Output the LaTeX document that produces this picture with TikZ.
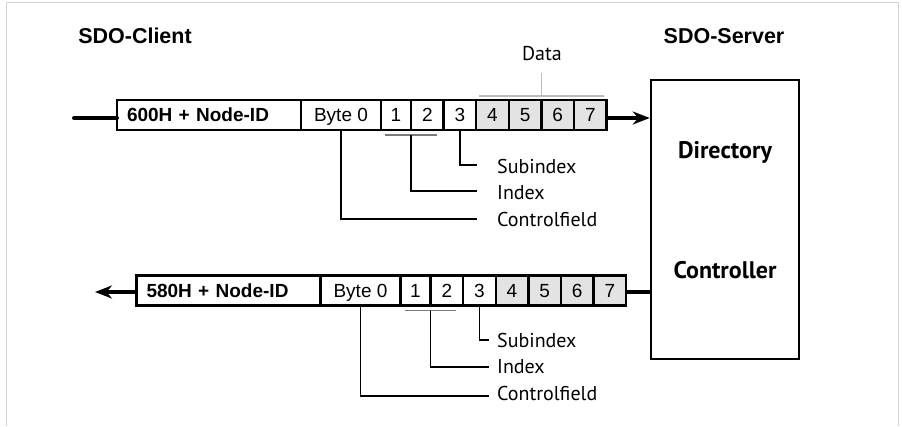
\documentclass[tikz,border=0pt]{standalone}
\usepackage{fontspec}
\setmainfont{Liberation Sans}
\newfontfamily\labelfont{PT Sans}
\usetikzlibrary{arrows.meta,positioning,calc}
\definecolor{cellgray}{HTML}{E3E3E3}
\definecolor{framegray}{HTML}{D4D4D4}
\definecolor{bracegray}{HTML}{7A7A7A}
\definecolor{datagray}{HTML}{BBBBBB}
\tikzset{
  field/.style={draw, line width=2.4pt, minimum height=30pt, inner sep=0pt, outer sep=0pt,
    text height=13.6pt, text depth=0pt, font=\fontsize{19}{22}\selectfont},
  idfield/.style={field, minimum width=184pt, text width=164pt, align=left, font=\bfseries\fontsize{19}{22}\selectfont},
  cell/.style={field, minimum width=32.6pt},
  datacell/.style={cell, fill=cellgray},
  wire/.style={line width=4pt},
  leader/.style={line width=1.3pt},
  lbl/.style={anchor=base west, inner sep=0pt, font=\labelfont\fontsize{20}{24}\selectfont},
  title/.style={anchor=base, inner sep=0pt, font=\bfseries\fontsize{21.5}{24}\selectfont},
  srvtext/.style={anchor=base, inner sep=0pt, font=\labelfont\bfseries\fontsize{24}{28}\selectfont},
}

\begin{document}
\begin{tikzpicture}[x=1pt,y=-1pt]
  \useasboundingbox (0,0) rectangle (902,426);
  \draw[framegray, line width=1pt] (6,426) -- (6,2.5) -- (898,2.5) -- (898,426);

  % titles
  \node[title] (client) at (135,43.5) {SDO-Client};
  \node[title] (server) at (724,43.5) {SDO-Server};

  % server box
  \node[draw, line width=2.5pt, minimum width=148pt, minimum height=279pt] (srv) at (725,219.5) {};
  \node[srvtext] (dir) at (725,158) {Directory};
  \node[srvtext] (ctrl) at (725,278) {Controller};

  % request: client -> server
  \node[idfield, anchor=west] (idA) at (117,115) {600H + Node-ID};
  \node[field, minimum width=80pt, right=0pt of idA] (b0A) {Byte 0};
  \node[cell, minimum width=30pt, right=0pt of b0A] (c1A) {1};
  \node[cell, right=0pt of c1A] (c2A) {2};
  \node[cell, right=0pt of c2A] (c3A) {3};
  \node[datacell, right=0pt of c3A] (c4A) {4};
  \node[datacell, right=0pt of c4A] (c5A) {5};
  \node[datacell, right=0pt of c5A] (c6A) {6};
  \node[datacell, right=0pt of c6A] (c7A) {7};

  \coordinate (inA) at (74,118);
  \draw[wire, line cap=round] (inA) -- (inA -| idA.west);
  \draw[wire, -{Stealth[length=17pt,width=13pt]}] (c7A.east |- inA) -- (srv.west |- inA);

  % data brace
  \node[lbl, anchor=base] (dataA) at (542,60) {Data};
  \coordinate (dmA) at ($(c4A.north west)!.5!(c7A.north east)+(0,-4)$);
  \draw[datagray, leader] ($(c4A.north west)+(3,-4)$) -- ($(c7A.north east)+(-3,-4)$);
  \draw[datagray, leader] (dmA) -- (dmA |- 0,73);

  % labels
  \node[lbl] (subA) at (497,173) {Subindex};
  \node[lbl] (idxA) at (497,199) {Index};
  \node[lbl] (ctlA) at (497,226) {Controlfield};
  \draw[bracegray, leader] ($(c1A.south west)+(4,5)$) -- ($(c2A.south east)+(-7,5)$);
  \draw[leader] (c3A.south) |- ([xshift=-20pt,yshift=8pt]subA.base west);
  \draw[leader] ($(c1A.south east)+(0,5)$) |- ([xshift=-20pt,yshift=8pt]idxA.base west);
  \draw[leader] (b0A.south) |- ([xshift=-20pt,yshift=7pt]ctlA.base west);

  % response: server -> client
  \node[idfield, anchor=west] (idB) at (136.5,290.5) {580H + Node-ID};
  \node[field, minimum width=80pt, right=0pt of idB] (b0B) {Byte 0};
  \node[cell, minimum width=30pt, right=0pt of b0B] (c1B) {1};
  \node[cell, right=0pt of c1B] (c2B) {2};
  \node[cell, right=0pt of c2B] (c3B) {3};
  \node[datacell, right=0pt of c3B] (c4B) {4};
  \node[datacell, right=0pt of c4B] (c5B) {5};
  \node[datacell, right=0pt of c5B] (c6B) {6};
  \node[datacell, right=0pt of c6B] (c7B) {7};

  \coordinate (outB) at (95,292);
  \draw[wire] (c7B.east |- outB) -- (srv.west |- outB);
  \draw[wire, -{Stealth[length=17pt,width=13pt]}] (outB -| idB.west) -- (outB);

  \node[lbl] (subB) at (497,347) {Subindex};
  \node[lbl] (idxB) at (497,373) {Index};
  \node[lbl] (ctlB) at (497,400) {Controlfield};
  \draw[bracegray, leader] ($(c1B.south west)+(4,5)$) -- ($(c2B.south east)+(-7,5)$);
  \draw[leader] (c3B.south) |- ([xshift=-8pt,yshift=7pt]subB.base west);
  \draw[leader] ($(c1B.south east)+(0,5)$) |- ([xshift=-8pt,yshift=6pt]idxB.base west);
  \draw[leader] (b0B.south) |- ([xshift=-8pt,yshift=4pt]ctlB.base west);
\end{tikzpicture}
\end{document}
